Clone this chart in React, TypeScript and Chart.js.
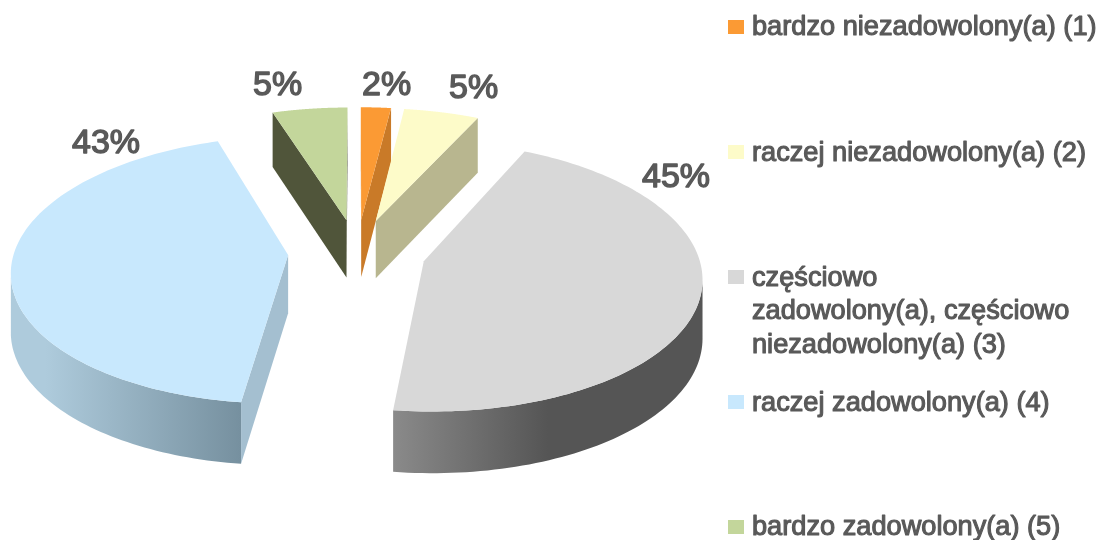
import React, { useEffect, useRef } from "react";
import { Chart, registerables } from "chart.js";

Chart.register(...registerables);

const legendLines = [
  ["bardzo niezadowolony(a) (1)"],
  ["raczej niezadowolony(a) (2)"],
  ["częściowo", "zadowolony(a), częściowo", "niezadowolony(a) (3)"],
  ["raczej zadowolony(a) (4)"],
  ["bardzo zadowolony(a) (5)"],
];
const categories = legendLines.map((l) => l.join(" "));
const shares = [2, 5, 45, 43, 5];
const topColors = ["#fb9a34", "#fdfbc9", "#d8d8d8", "#c8e8fd", "#c3d69b"];
const edgeColors = ["#c97a28", "#b8b68f", "#777777", "#a4bfd0", "#50553a"];
const rimStops = [
  ["#c97a28", "#c97a28"],
  ["#b8b68f", "#b8b68f"],
  ["#8a8a8a", "#555555"],
  ["#aecbdc", "#76909f"],
  ["#50553a", "#50553a"],
];
const drawOrder = [4, 0, 1, 3, 2];

const labelX = [362, 449, 642, 72, 253];
const labelY = [95, 98, 187, 153, 95];
const legendSwatchY = [20, 145, 270, 395, 520];
const legendBaselines = [[35], [161], [286, 319, 353], [411], [535]];

const TILT = 0.48;
const PERSPECTIVE = 0.0004;
const DEPTH = 58;
const TEXT = "#595959";
const FONT = '"Liberation Sans", Arial, sans-serif';

const strokedText = (ctx: any, text: string, x: number, y: number, w: number) => {
  ctx.lineWidth = w;
  ctx.strokeStyle = TEXT;
  ctx.fillStyle = TEXT;
  ctx.lineJoin = "round";
  ctx.strokeText(text, x, y);
  ctx.fillText(text, x, y);
};

const pie3d = {
  id: "pie3d",
  beforeDatasetDraw(chart: any) {
    const ctx = chart.ctx;
    const arcs = chart.getDatasetMeta(0).data;
    drawOrder.forEach((i) => {
      const a = arcs[i];
      const { x, y, startAngle, endAngle, outerRadius } = a.getProps(
        ["x", "y", "startAngle", "endAngle", "outerRadius"],
        true
      );
      const offset = a.options.offset;
      const mid = (startAngle + endAngle) / 2;
      const project = (r: number, t: number) => {
        const u = offset * Math.cos(mid) + r * Math.cos(t);
        const v = offset * Math.sin(mid) + r * Math.sin(t);
        const s = 1 / (1 - PERSPECTIVE * v);
        return { x: x + u * s, y: y + TILT * v * s, d: DEPTH * Math.sqrt(s) };
      };
      const steps = 120;
      const rim: any[] = [];
      for (let k = 0; k <= steps; k++) {
        rim.push(project(outerRadius, startAngle + ((endAngle - startAngle) * k) / steps));
      }
      const tip = project(0, mid);
      const wall = (points: any[], fill: any) => {
        ctx.beginPath();
        points.forEach((p, n) => (n ? ctx.lineTo(p.x, p.y) : ctx.moveTo(p.x, p.y)));
        [...points].reverse().forEach((p) => ctx.lineTo(p.x, p.y + p.d));
        ctx.closePath();
        ctx.fillStyle = fill;
        ctx.fill();
      };
      const front = rim.filter((p, k) => (k < steps ? rim[k + 1].x < p.x : rim[k - 1].x > p.x));
      if (front.length > 1) {
        const xs = front.map((p) => p.x);
        const minX = Math.min(...xs);
        const maxX = Math.max(...xs);
        const g = ctx.createLinearGradient(minX, 0, maxX, 0);
        if (i === 2) {
          g.addColorStop(0, rimStops[i][0]);
          g.addColorStop(0.5, rimStops[i][1]);
          g.addColorStop(1, rimStops[i][1]);
        } else {
          g.addColorStop(0, rimStops[i][0]);
          g.addColorStop(0.15, rimStops[i][0]);
          g.addColorStop(1, rimStops[i][1]);
        }
        wall(front, g);
      }
      if (rim[0].x < tip.x) wall([tip, rim[0]], edgeColors[i]);
      if (tip.x < rim[steps].x) wall([rim[steps], tip], edgeColors[i]);
      ctx.beginPath();
      ctx.moveTo(tip.x, tip.y);
      rim.forEach((p) => ctx.lineTo(p.x, p.y));
      ctx.closePath();
      ctx.fillStyle = a.options.backgroundColor;
      ctx.fill();
    });
    return false;
  },
  afterDraw(chart: any) {
    const ctx = chart.ctx;
    ctx.save();
    ctx.textBaseline = "alphabetic";
    ctx.textAlign = "left";
    ctx.font = `34px ${FONT}`;
    shares.forEach((v, i) => strokedText(ctx, `${v}%`, labelX[i], labelY[i], 1.4));
    ctx.font = `27.2px ${FONT}`;
    legendLines.forEach((lines, i) => {
      ctx.fillStyle = topColors[i];
      ctx.fillRect(728, legendSwatchY[i], 16, 14);
      lines.forEach((t, j) => strokedText(ctx, t, 752, legendBaselines[i][j], 1.1));
    });
    ctx.restore();
  },
};

export default function App() {
  const ref = useRef<HTMLCanvasElement>(null);
  useEffect(() => {
    document.body.style.margin = "0";
    const chart = new Chart(ref.current as any, {
      type: "pie",
      data: {
        labels: categories,
        datasets: [
          {
            data: shares,
            backgroundColor: topColors,
            borderWidth: 0,
            offset: 69,
            radius: 274,
          } as any,
        ],
      },
      options: {
        animation: false,
        responsive: false,
        events: [],
        layout: { padding: { left: 0, top: 0, right: 385, bottom: 36 } },
        plugins: { legend: { display: false }, tooltip: { enabled: false } },
      },
      plugins: [pie3d],
    } as any);
    return () => chart.destroy();
  }, []);
  return (
    <div style={{ width: 1099, height: 540 }}>
      <canvas ref={ref} width={1099} height={540} style={{ display: "block", filter: "blur(0.4px)" }} />
    </div>
  );
}
